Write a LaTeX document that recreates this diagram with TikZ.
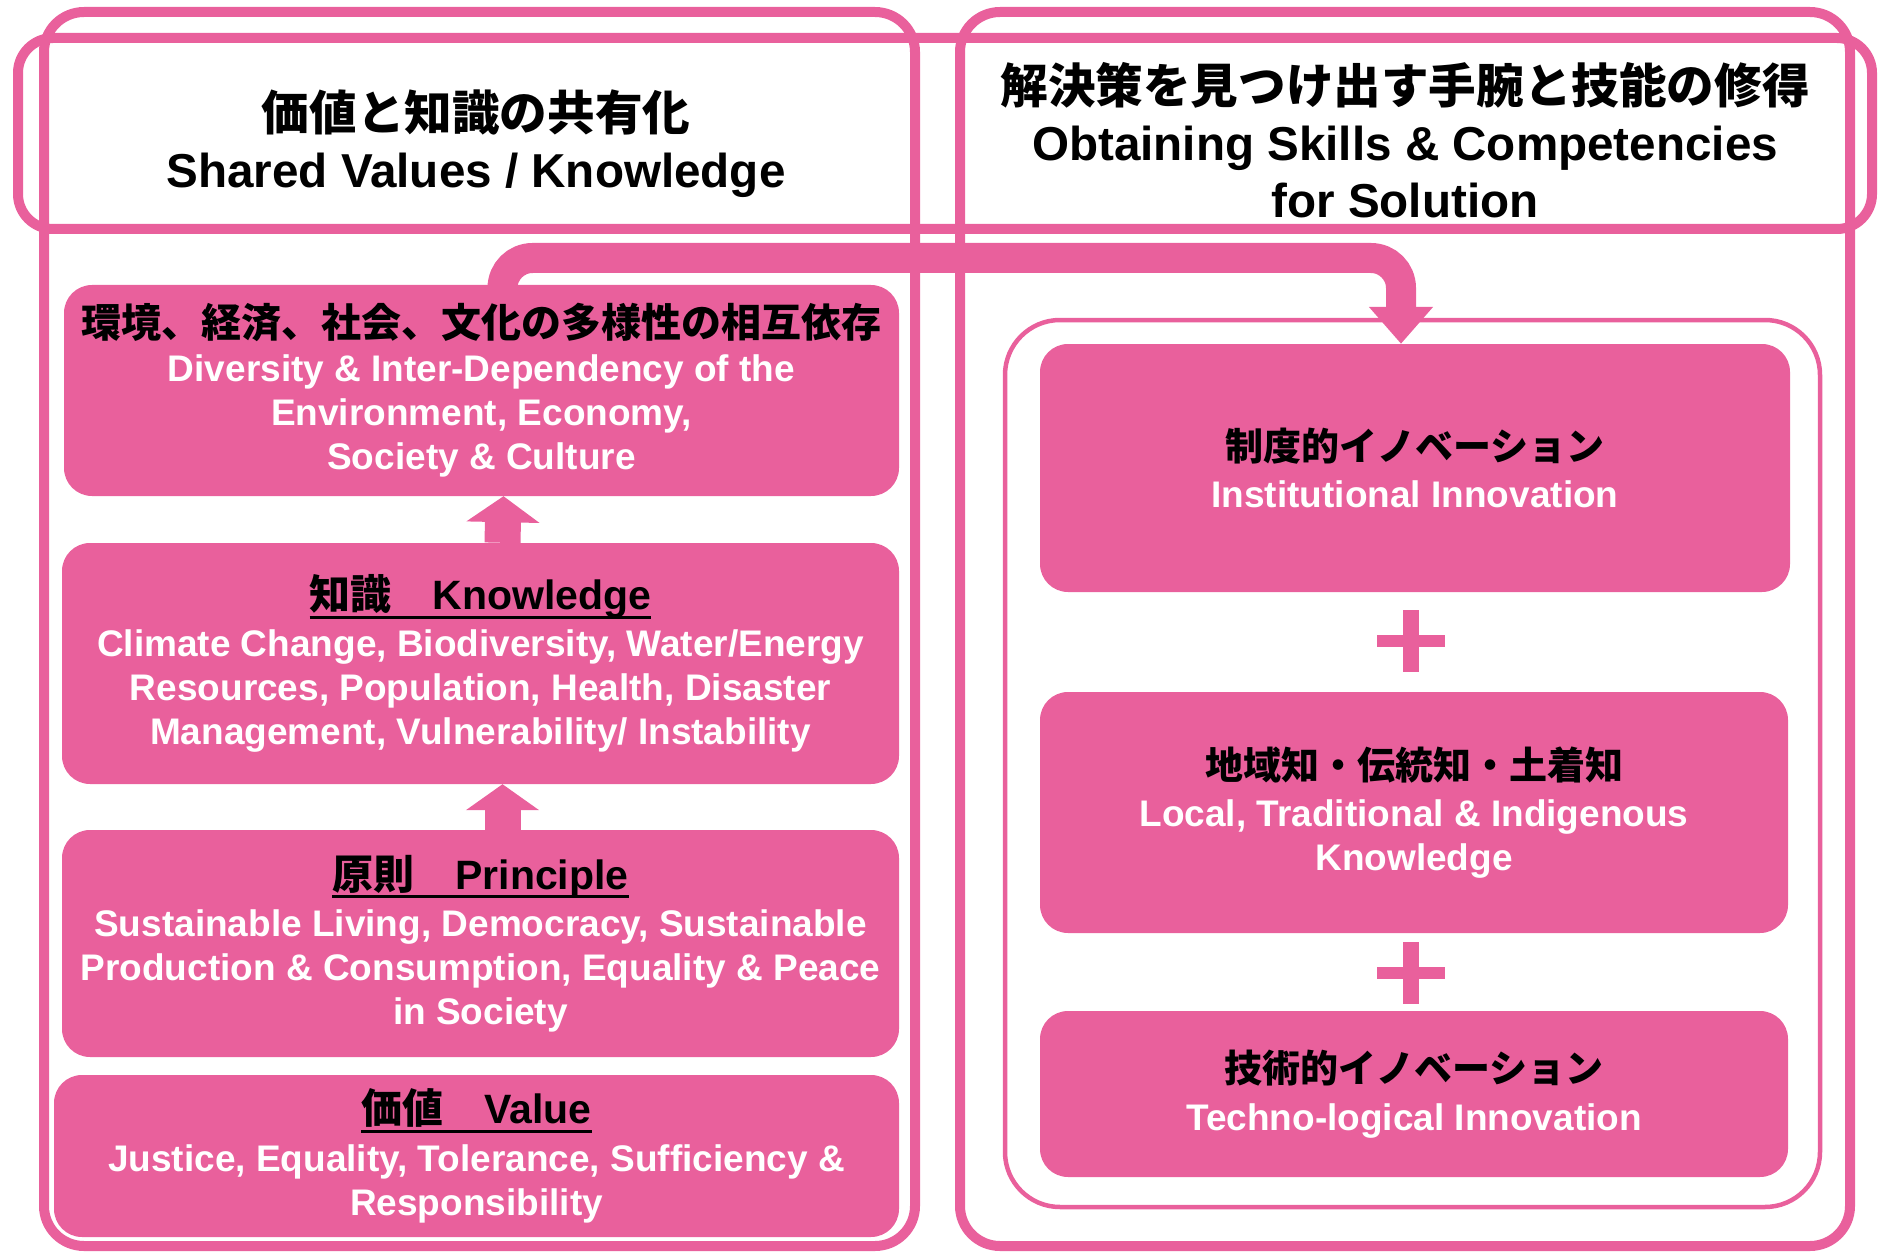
\documentclass[tikz,border=0pt]{standalone}
\usepackage{fontspec}
\setmainfont{Liberation Sans}
\newfontfamily\jpfont{Noto Sans CJK JP}
\usetikzlibrary{arrows.meta}
\definecolor{pinkc}{RGB}{233,96,156}
\newsavebox\titlebox
\newcommand\jp[1]{{\jpfont #1}}
\newcommand\jpline[2]{{\color{black}\jpfont\fontsize{#1}{44}\selectfont #2}}
\newcommand\boxhead[1]{{\color{black}\fontsize{41}{44}\selectfont
  \sbox\titlebox{#1}\rlap{\rule[-9pt]{\wd\titlebox}{3pt}}\usebox\titlebox}}
\tikzset{
  frame/.style={draw=pinkc, line width=10pt, rounded corners=40pt},
  pinkbox/.style={fill=pinkc, rounded corners=28pt, inner sep=0pt, align=center,
    text=white, font=\bfseries\fontsize{37}{44}\selectfont},
  headtext/.style={align=center, inner sep=0pt, font=\bfseries\fontsize{47.6}{57}\selectfont},
  uparrow/.style={draw=pinkc, line width=36pt, -{Triangle[width=72pt,length=26pt]}},
  band/.style={draw=pinkc, line width=30pt, rounded corners=30pt,
    -{Triangle[width=62pt,length=37pt]}},
  plus/.style={fill=pinkc}
}
\begin{document}
\begin{tikzpicture}[x=1pt, y=-1pt]
\useasboundingbox (0,0) rectangle (1883,1252);

% column frames and header band
\draw[frame] (44,12) rectangle (915,1246);
\draw[frame] (960,12) rectangle (1850,1246);
\draw[frame, rounded corners=35pt] (18,38) rectangle (1872,229);
\draw[draw=pinkc, line width=4.5pt, rounded corners=55pt] (1005,320) rectangle (1820,1207);

\node[headtext] (headL) at (476,144) {\jp{価値と知識の共有化}\\ Shared Values / Knowledge};
\node[headtext] (headR) at (1405,140) {\jp{解決策を見つけ出す手腕と技能の修得}\\
  Obtaining Skills \& Competencies\\ for Solution};

% left column
\node[pinkbox, minimum width=835pt, minimum height=211pt] (envi) at (481.5,390.5)
  {\jpline{40}{環境、経済、社会、文化の多様性の相互依存}\\
   Diversity \& Inter-Dependency of the\\ Environment, Economy,\\ Society \& Culture};
\node[pinkbox, minimum width=837pt, minimum height=241pt] (know) at (480.5,663.5)
  {\boxhead{\jp{知識　}Knowledge}\\[3pt]
   Climate Change, Biodiversity, Water/Energy\\
   Resources, Population, Health, Disaster\\
   Management, Vulnerability/ Instability};
\node[pinkbox, minimum width=837pt, minimum height=227pt] (prin) at (480.5,943.5)
  {\boxhead{\jp{原則　}Principle}\\[3pt]
   Sustainable Living, Democracy, Sustainable\\
   Production \& Consumption, Equality \& Peace\\ in Society};
\node[pinkbox, minimum width=845pt, minimum height=162pt] (valu) at (476.5,1156)
  {\boxhead{\jp{価値　}Value}\\[4pt]
   Justice, Equality, Tolerance, Sufficiency \&\\ Responsibility};

% right column
\node[pinkbox, minimum width=750pt, minimum height=248pt] (inst) at (1415,468)
  {\jpline{38}{制度的イノベーション}\\[3pt] Institutional Innovation};
\node[pinkbox, minimum width=748pt, minimum height=241pt] (locl) at (1414,812.5)
  {\jpline{38}{地域知・伝統知・土着知}\\[3pt] Local, Traditional \& Indigenous\\ Knowledge};
\node[pinkbox, minimum width=748pt, minimum height=166pt] (tech) at (1414,1094)
  {\jpline{38}{技術的イノベーション}\\[4pt] Techno-logical Innovation};

\fill[plus] (1403,610) rectangle (1419,672);
\fill[plus] (1377,635) rectangle (1445,647);
\fill[plus] (1403,942) rectangle (1419,1004);
\fill[plus] (1377,967) rectangle (1445,979);

% arrows
\draw[uparrow] ([xshift=22pt]prin.north) -- ([xshift=22pt]know.south);
\draw[uparrow] ([xshift=22pt]know.north) -- ([xshift=22pt]envi.south);
\coordinate (bandtop) at (950,258);
\draw[band] ([xshift=21pt]envi.north) |- (bandtop) -| ([xshift=-14pt]inst.north);
\end{tikzpicture}
\end{document}
